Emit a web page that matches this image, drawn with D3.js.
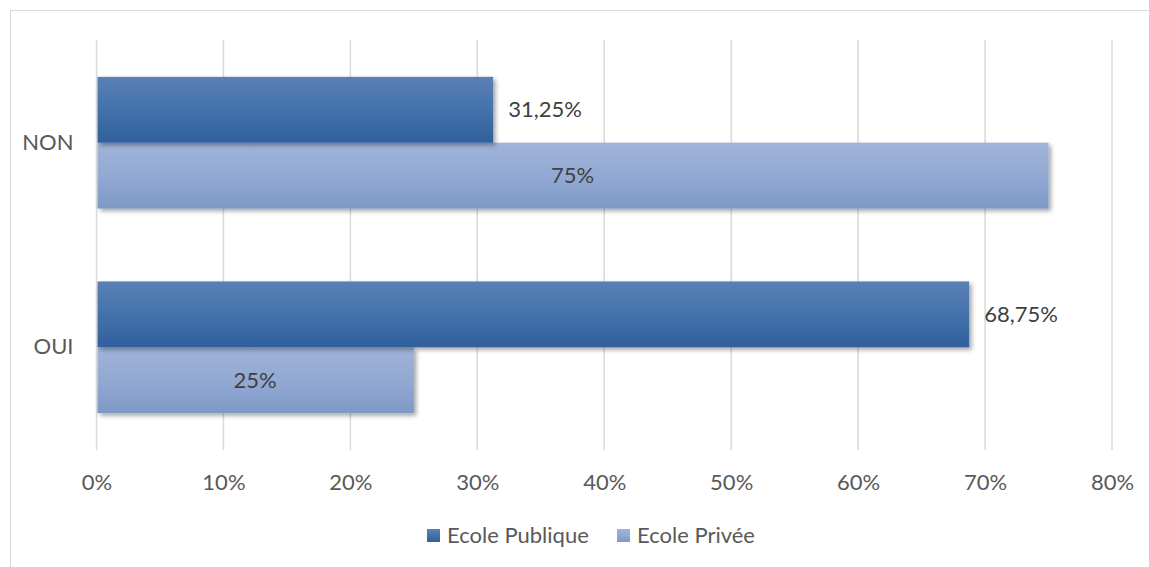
<!DOCTYPE html>
<html>
<head>
<meta charset="utf-8">
<script src="https://cdn.jsdelivr.net/npm/d3@7"></script>
<style>
  html, body { margin: 0; padding: 0; background: #fff; }
  svg { display: block; font-family: Lato, "Open Sans", "Noto Sans", sans-serif; }
</style>
</head>
<body>
<svg id="chart" width="1149" height="567"></svg>
<script>
// Responses by school type
const categories = ["NON", "OUI"];
const seriesNames = ["Ecole Publique", "Ecole Privée"];
const publique = [31.25, 68.75];
const privee = [75, 25];
const valueLabels = [["31,25%", "75%"], ["68,75%", "25%"]];
const tickValues = [0, 10, 20, 30, 40, 50, 60, 70, 80];

const svg = d3.select("#chart");
const W = 1149, H = 567;
const plot = { left: 96.5, right: 1112, top: 40, bottom: 450 };
const FONT = 22;

// Chart frame
svg.append("rect")
  .attr("x", 10.5).attr("y", 10.5)
  .attr("width", W + 20).attr("height", H + 20)
  .attr("fill", "#fff").attr("stroke", "#d9d9d9").attr("stroke-width", 1);

const defs = svg.append("defs");
const gradPub = defs.append("linearGradient").attr("id", "gPub")
  .attr("x1", 0).attr("y1", 0).attr("x2", 0).attr("y2", 1);
gradPub.append("stop").attr("offset", "0%").attr("stop-color", "#5b80b6");
gradPub.append("stop").attr("offset", "50%").attr("stop-color", "#4372ab");
gradPub.append("stop").attr("offset", "100%").attr("stop-color", "#30609d");
const gradPriv = defs.append("linearGradient").attr("id", "gPriv")
  .attr("x1", 0).attr("y1", 0).attr("x2", 0).attr("y2", 1);
gradPriv.append("stop").attr("offset", "0%").attr("stop-color", "#a0b4d8");
gradPriv.append("stop").attr("offset", "50%").attr("stop-color", "#92a9d3");
gradPriv.append("stop").attr("offset", "100%").attr("stop-color", "#7e99c6");
const shadow = defs.append("filter").attr("id", "shadow")
  .attr("x", "-5%").attr("y", "-20%").attr("width", "115%").attr("height", "150%");
shadow.append("feDropShadow").attr("dx", 2.5).attr("dy", 2.5)
  .attr("stdDeviation", 2).attr("flood-color", "#000").attr("flood-opacity", 0.35);

const x = d3.scaleLinear().domain([0, 80]).range([plot.left, plot.right]);
const y = d3.scaleBand().domain(categories).range([plot.top, plot.bottom])
  .paddingInner(0.356).paddingOuter(0.18);
const sub = d3.scaleBand().domain(seriesNames).range([0, y.bandwidth()]);

// Vertical gridlines
svg.append("g").selectAll("line").data(tickValues).join("line")
  .attr("x1", d => x(d)).attr("x2", d => x(d))
  .attr("y1", plot.top).attr("y2", plot.bottom)
  .attr("stroke", "#d9d9d9").attr("stroke-width", 1.5);

// X axis labels
const xAxis = d3.axisBottom(x).tickValues(tickValues)
  .tickFormat(d => d + "%").tickSize(0).tickPadding(0);
const gx = svg.append("g").attr("transform", `translate(0,${plot.bottom + 32})`).call(xAxis);
gx.select(".domain").remove();
gx.selectAll("text").attr("fill", "#595959").attr("font-size", FONT)
  .attr("font-family", "Lato, 'Open Sans', sans-serif")
  .attr("dy", "0.35em");

// Y axis labels
const yAxis = d3.axisLeft(y).tickSize(0).tickPadding(0);
const gy = svg.append("g").attr("transform", `translate(${plot.left - 23},0)`).call(yAxis);
gy.select(".domain").remove();
gy.selectAll("text").attr("fill", "#595959").attr("font-size", FONT)
  .attr("font-family", "Lato, 'Open Sans', sans-serif");

// Bars
const rows = categories.map((c, i) => ({
  cat: c,
  bars: [
    { s: seriesNames[0], v: publique[i], fill: "url(#gPub)", label: valueLabels[i][0], inside: false },
    { s: seriesNames[1], v: privee[i], fill: "url(#gPriv)", label: valueLabels[i][1], inside: true }
  ]
}));

const g = svg.append("g").selectAll("g").data(rows).join("g")
  .attr("transform", d => `translate(0,${y(d.cat)})`);

// Lower (private) bar drawn first so the public bar's shadow falls onto it
g.selectAll("rect").data(d => d.bars.slice().reverse()).join("rect")
  .attr("x", x(0) + 1)
  .attr("y", d => sub(d.s))
  .attr("width", d => x(d.v) - x(0) - 1)
  .attr("height", sub.bandwidth())
  .attr("fill", d => d.fill)
  .attr("filter", "url(#shadow)");

g.selectAll("text").data(d => d.bars).join("text")
  .attr("x", d => d.inside ? (x(0) + x(d.v)) / 2 : x(d.v) + 15)
  .attr("y", d => sub(d.s) + sub.bandwidth() / 2)
  .attr("dy", "0.35em")
  .attr("text-anchor", d => d.inside ? "middle" : "start")
  .attr("fill", "#404040").attr("font-size", FONT)
  .text(d => d.label);

// Legend
const legend = svg.append("g");
const legendItems = [
  { name: seriesNames[0], fill: "url(#gPub)", x: 427 },
  { name: seriesNames[1], fill: "url(#gPriv)", x: 617 }
];
const li = legend.selectAll("g").data(legendItems).join("g")
  .attr("transform", d => `translate(${d.x},529)`);
li.append("rect").attr("width", 13).attr("height", 13).attr("fill", d => d.fill);
li.append("text").attr("x", 20).attr("y", 6.5).attr("dy", "0.35em")
  .attr("fill", "#595959").attr("font-size", FONT).text(d => d.name);
</script>
</body>
</html>
